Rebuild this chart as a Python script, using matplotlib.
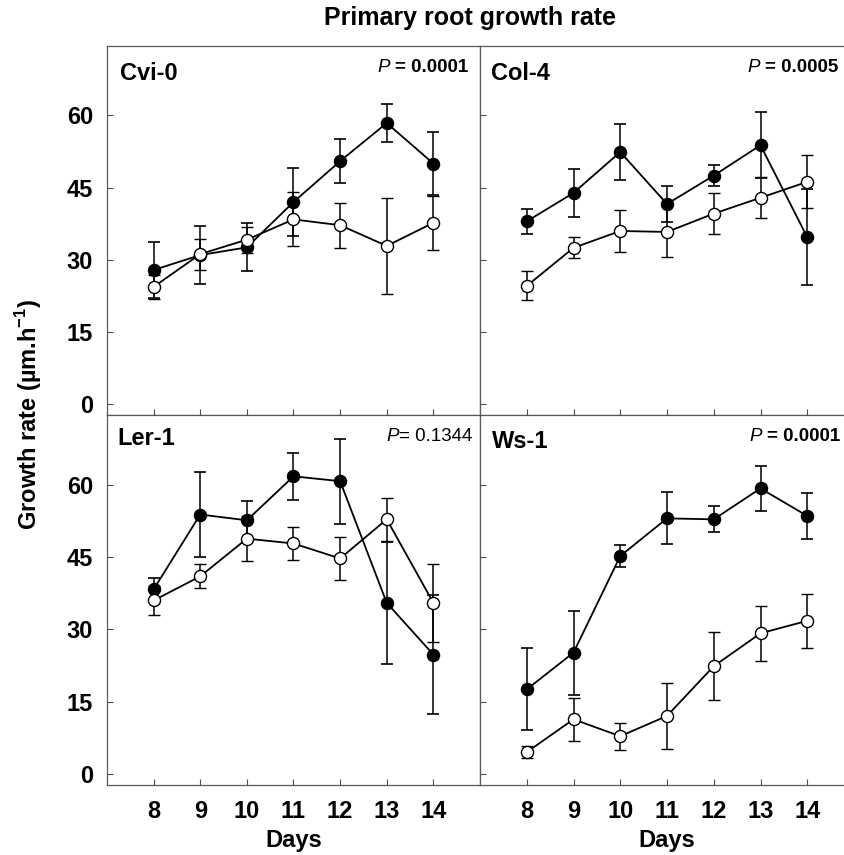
import numpy as np
import matplotlib
matplotlib.use('Agg')
import matplotlib.pyplot as plt

# ==========================================
# 1. Data
# ==========================================
days = [8, 9, 10, 11, 12, 13, 14]

panel_names = ['Cvi-0', 'Col-4', 'Ler-1', 'Ws-1']
p_values = ['0.0001', '0.0005', '0.1344', '0.0001']

cvi_filled = [27.9, 31.0, 32.6, 42.0, 50.5, 58.4, 50.0]
cvi_filled_err = [5.8, 6.0, 5.0, 7.0, 4.6, 4.0, 6.5]
cvi_open = [24.4, 31.2, 34.2, 38.4, 37.2, 32.9, 37.7]
cvi_open_err = [2.5, 3.2, 2.7, 5.6, 4.7, 10.0, 5.6]

col_filled = [38.0, 43.9, 52.4, 41.6, 47.5, 53.8, 34.7]
col_filled_err = [2.6, 5.0, 5.8, 3.8, 2.2, 6.9, 10.0]
col_open = [24.6, 32.5, 36.0, 35.8, 39.6, 42.9, 46.2]
col_open_err = [3.0, 2.2, 4.4, 5.3, 4.2, 4.3, 5.5]

ler_filled = [38.3, 53.8, 52.6, 61.7, 60.7, 35.5, 24.8]
ler_filled_err = [2.3, 8.7, 4.0, 4.9, 8.8, 12.7, 12.3]
ler_open = [36.0, 41.0, 48.8, 47.8, 44.7, 52.8, 35.5]
ler_open_err = [3.0, 2.5, 4.7, 3.4, 4.4, 4.5, 8.0]

ws_filled = [17.6, 25.2, 45.2, 53.0, 52.8, 59.2, 53.5]
ws_filled_err = [8.5, 8.7, 2.3, 5.4, 2.7, 4.6, 4.7]
ws_open = [4.6, 11.4, 7.9, 12.1, 22.4, 29.2, 31.8]
ws_open_err = [1.2, 4.5, 2.8, 6.9, 7.0, 5.7, 5.6]

y_ticks = [0, 15, 30, 45, 60]

# ==========================================
# 2. Style
# ==========================================
plt.rcParams['font.family'] = ['Liberation Sans', 'DejaVu Sans']
plt.rcParams['mathtext.fontset'] = 'custom'
plt.rcParams['mathtext.rm'] = 'Liberation Sans'
plt.rcParams['mathtext.bf'] = 'Liberation Sans:bold'

fig = plt.figure(figsize=(8.45, 8.55), dpi=100)
W, H = 845.0, 855.0

def px_axes(x0, x1, y_top, y_bot):
    # pixel box -> figure fraction
    return fig.add_axes([x0 / W, 1 - y_bot / H, (x1 - x0) / W, (y_bot - y_top) / H])

axes = [
    px_axes(107, 480, 46, 415),
    px_axes(480, 854, 46, 415),
    px_axes(107, 480, 415, 785),
    px_axes(480, 854, 415, 785),
]

series = [
    (cvi_filled, cvi_filled_err, cvi_open, cvi_open_err),
    (col_filled, col_filled_err, col_open, col_open_err),
    (ler_filled, ler_filled_err, ler_open, ler_open_err),
    (ws_filled, ws_filled_err, ws_open, ws_open_err),
]

# label / P-value placement (axes fraction)
name_pos = [(0.035, 0.908), (0.030, 0.908), (0.027, 0.919), (0.032, 0.910)]
p_pos = [(0.968, 0.93), (0.957, 0.93), (0.979, 0.93), (0.963, 0.93)]
p_bold = [True, True, False, True]

# ==========================================
# 3. Plot
# ==========================================
for i, ax in enumerate(axes):
    f, fe, o, oe = series[i]
    ax.errorbar(days, f, yerr=fe, color='black', lw=1.3, elinewidth=1.1,
                capsize=4.5, capthick=1.2, marker='o', ms=8.7,
                mfc='black', mec='black', zorder=3)
    ax.errorbar(days, o, yerr=oe, color='black', lw=1.3, elinewidth=1.1,
                capsize=4.5, capthick=1.2, marker='o', ms=8.7,
                mfc='white', mec='black', mew=1.0, zorder=4)

    ax.set_xlim(7, 15)
    ax.set_ylim(-2.2, 74.4)
    ax.set_xticks(days)
    ax.set_yticks(y_ticks)
    ax.tick_params(direction='in', length=4, width=0.8, color='0.3',
                   labelsize=17, pad=10)
    for lab in ax.get_xticklabels() + ax.get_yticklabels():
        lab.set_fontweight('bold')
    for sp in ax.spines.values():
        sp.set_color('0.35')
        sp.set_linewidth(0.9)

    if i < 2:
        ax.tick_params(labelbottom=False)
    else:
        ax.set_xlabel('Days', fontsize=17, fontweight='bold', labelpad=4)
        ax.tick_params(axis='x', pad=11)
    if i % 2 == 1:
        ax.tick_params(labelleft=False)
        ax.spines['right'].set_visible(False)  # cut off in the original

    # panel name
    ax.text(name_pos[i][0], name_pos[i][1], panel_names[i], transform=ax.transAxes,
            fontsize=17, fontweight='bold', ha='left', va='baseline')

    # P value: italic P + value
    if p_bold[i]:
        t = ax.text(p_pos[i][0], p_pos[i][1], '= ' + p_values[i], transform=ax.transAxes,
                    fontsize=13.5, fontweight='bold', ha='right', va='baseline')
        ax.annotate('P ', xy=(0, p_pos[i][1]), xycoords=(t, 'axes fraction'),
                    fontsize=13.5, fontstyle='italic', ha='right', va='baseline')
    else:
        t = ax.text(p_pos[i][0], p_pos[i][1], '= ' + p_values[i], transform=ax.transAxes,
                    fontsize=13.5, ha='right', va='baseline')
        ax.annotate('P', xy=(0, p_pos[i][1]), xycoords=(t, 'axes fraction'),
                    fontsize=13.5, fontstyle='italic', ha='right', va='baseline')

fig.text(0.556, 0.979, 'Primary root growth rate', fontsize=18, fontweight='bold',
         ha='center', va='center')
fig.text(0.034, 0.515, r'Growth rate (µm.h$^{\mathbf{-1}}$)', fontsize=17,
         fontweight='bold', rotation=90, ha='center', va='center')

fig.savefig('out.png', dpi=100)
